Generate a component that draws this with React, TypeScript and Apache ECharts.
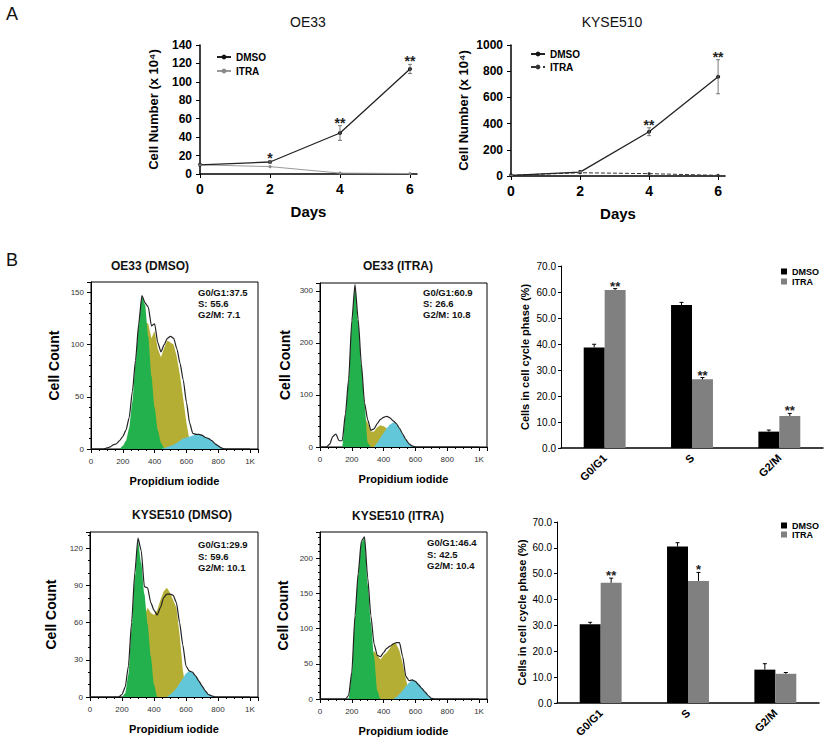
import React, { useEffect, useRef } from 'react';
import * as echarts from 'echarts';

const FONT = '"Liberation Sans", Arial, Helvetica, sans-serif';
const GREEN = '#22b14c';
const OLIVE = '#b4af34';
const CYAN = '#62c7d9';

// ---------- Panel A: growth curves ----------
const days = [0, 2, 4, 6];
const dayTicks = [0, 2, 4, 6];
const oeDmso = [10, 13, 44.5, 114];
const oeDmsoErr = [0.8, 1.2, 8, 5];
const oeItra = [10, 8, 1, 0.5];
const oeStars = ['', '*', '**', '**'];
const kyDmso = [5, 30, 338, 758];
const kyDmsoErr = [2, 5, 30, 130];
const kyItra = [5, 25, 18, 5];
const kyStars = ['', '', '**', '**'];

// ---------- Panel B: DNA histograms ----------
const histX = [
  0, 20, 40, 60, 80, 100, 120, 140, 160, 180,
  200, 220, 240, 260, 280, 300, 320, 340, 360, 380,
  400, 420, 440, 460, 480, 500, 520, 540, 560, 580,
  600, 620, 640, 660, 680, 700, 720, 740, 760, 780,
  800, 820, 840, 860, 880, 900, 920, 940, 960, 980,
  1000,
];
const histXTicks = [0, 200, 400, 600, 800, 1000];

const oeDmsoTotal = [
  0, 0, 0, 0, 0, 1, 2, 4, 5, 8,
  12, 18, 30, 55, 85, 120, 147, 140, 136, 118,
  120, 102, 93, 100, 106, 108, 106, 96, 82, 66,
  45, 25, 15, 14, 14, 13, 11, 10, 8, 5,
  3, 1, 0, 0, 0, 0, 0, 0, 0, 0,
  0,
];
const oeDmsoG1 = [
  0, 0, 0, 0, 0, 0, 0, 0, 0, 0,
  3, 8, 20, 45, 82, 120, 146, 138, 108, 70,
  40, 18, 6, 1, 0, 0, 0, 0, 0, 0,
  0, 0, 0, 0, 0, 0, 0, 0, 0, 0,
  0, 0, 0, 0, 0, 0, 0, 0, 0, 0,
  0,
];
const oeDmsoS = [
  0, 0, 0, 0, 0, 0, 0, 0, 0, 0,
  0, 0, 0, 0, 0, 50, 95, 122, 120, 106,
  113, 96, 88, 97, 104, 102, 100, 88, 70, 48,
  25, 8, 2, 0, 0, 0, 0, 0, 0, 0,
  0, 0, 0, 0, 0, 0, 0, 0, 0, 0,
  0,
];
const oeDmsoG2 = [
  0, 0, 0, 0, 0, 0, 0, 0, 0, 0,
  0, 0, 0, 0, 0, 0, 0, 0, 0, 0,
  0, 0, 0, 1, 2, 3, 4, 6, 8, 10,
  11, 12, 13, 14, 14, 13, 11, 10, 8, 5,
  3, 1, 0, 0, 0, 0, 0, 0, 0, 0,
  0,
];

const oeItraTotal = [
  0, 0, 0, 5, 20, 25, 12, 12, 64, 130,
  242, 312, 245, 160, 85, 52, 32, 35, 45, 53,
  57, 59, 56, 50, 45, 36, 25, 14, 6, 2,
  0, 0, 0, 0, 0, 0, 0, 0, 0, 0,
  0, 0, 0, 0, 0, 0, 0, 0, 0, 0,
  0,
];
const oeItraG1 = [
  0, 0, 0, 0, 0, 0, 0, 0, 60, 125,
  238, 310, 241, 158, 83, 8, 0, 0, 0, 0,
  0, 0, 0, 0, 0, 0, 0, 0, 0, 0,
  0, 0, 0, 0, 0, 0, 0, 0, 0, 0,
  0, 0, 0, 0, 0, 0, 0, 0, 0, 0,
  0,
];
const oeItraS = [
  0, 0, 0, 0, 0, 0, 0, 0, 0, 0,
  0, 0, 0, 45, 58, 46, 30, 30, 38, 42,
  40, 36, 25, 10, 0, 0, 0, 0, 0, 0,
  0, 0, 0, 0, 0, 0, 0, 0, 0, 0,
  0, 0, 0, 0, 0, 0, 0, 0, 0, 0,
  0,
];
const oeItraG2 = [
  0, 0, 0, 0, 0, 0, 0, 0, 0, 0,
  0, 0, 0, 0, 0, 0, 0, 0, 8, 18,
  27, 36, 43, 47, 44, 35, 24, 14, 6, 2,
  0, 0, 0, 0, 0, 0, 0, 0, 0, 0,
  0, 0, 0, 0, 0, 0, 0, 0, 0, 0,
  0,
];

const kyDmsoTotal = [
  0, 0, 0, 0, 0, 0, 0, 0, 0, 0,
  2, 8, 25, 60, 100, 128, 118, 89, 88, 76,
  70, 66, 72, 80, 83, 83, 82, 76, 60, 42,
  25, 21, 20, 17, 13, 9, 5, 2, 1, 0,
  0, 0, 0, 0, 0, 0, 0, 0, 0, 0,
  0,
];
const kyDmsoG1 = [
  0, 0, 0, 0, 0, 0, 0, 0, 0, 0,
  0, 3, 18, 55, 95, 126, 108, 83, 59, 33,
  10, 0, 0, 0, 0, 0, 0, 0, 0, 0,
  0, 0, 0, 0, 0, 0, 0, 0, 0, 0,
  0, 0, 0, 0, 0, 0, 0, 0, 0, 0,
  0,
];
const kyDmsoS = [
  0, 0, 0, 0, 0, 0, 0, 0, 0, 0,
  0, 0, 0, 0, 0, 0, 0, 65, 72, 68,
  66, 70, 78, 85, 88, 84, 78, 72, 50, 22,
  5, 0, 0, 0, 0, 0, 0, 0, 0, 0,
  0, 0, 0, 0, 0, 0, 0, 0, 0, 0,
  0,
];
const kyDmsoG2 = [
  0, 0, 0, 0, 0, 0, 0, 0, 0, 0,
  0, 0, 0, 0, 0, 0, 0, 0, 0, 0,
  0, 0, 0, 0, 0, 2, 4, 7, 11, 15,
  19, 21, 20, 17, 13, 9, 5, 2, 1, 0,
  0, 0, 0, 0, 0, 0, 0, 0, 0, 0,
  0,
];

const kyItraTotal = [
  0, 0, 0, 0, 0, 0, 0, 0, 0, 5,
  38, 118, 178, 224, 230, 172, 118, 78, 62, 60,
  66, 72, 75, 78, 80, 80, 60, 32, 26, 27,
  25, 20, 15, 10, 5, 1, 0, 0, 0, 0,
  0, 0, 0, 0, 0, 0, 0, 0, 0, 0,
  0,
];
const kyItraG1 = [
  0, 0, 0, 0, 0, 0, 0, 0, 0, 0,
  35, 115, 175, 222, 228, 162, 108, 60, 12, 0,
  0, 0, 0, 0, 0, 0, 0, 0, 0, 0,
  0, 0, 0, 0, 0, 0, 0, 0, 0, 0,
  0, 0, 0, 0, 0, 0, 0, 0, 0, 0,
  0,
];
const kyItraS = [
  0, 0, 0, 0, 0, 0, 0, 0, 0, 0,
  0, 0, 0, 0, 0, 0, 60, 68, 62, 56,
  62, 66, 72, 80, 78, 68, 50, 28, 10, 0,
  0, 0, 0, 0, 0, 0, 0, 0, 0, 0,
  0, 0, 0, 0, 0, 0, 0, 0, 0, 0,
  0,
];
const kyItraG2 = [
  0, 0, 0, 0, 0, 0, 0, 0, 0, 0,
  0, 0, 0, 0, 0, 0, 0, 0, 0, 0,
  0, 0, 0, 0, 3, 7, 12, 18, 23, 27,
  26, 22, 16, 10, 5, 1, 0, 0, 0, 0,
  0, 0, 0, 0, 0, 0, 0, 0, 0, 0,
  0,
];

const histTitles = ['OE33 (DMSO)', 'OE33 (ITRA)', 'KYSE510 (DMSO)', 'KYSE510 (ITRA)'];
const histStats = [
  ['G0/G1:37.5', 'S: 55.6', 'G2/M: 7.1'],
  ['G0/G1:60.9', 'S: 26.6', 'G2/M: 10.8'],
  ['G0/G1:29.9', 'S: 59.6', 'G2/M: 10.1'],
  ['G0/G1:46.4', 'S: 42.5', 'G2/M: 10.4'],
];

// ---------- Panel B: cell-cycle bars ----------
const phases = ['G0/G1', 'S', 'G2/M'];
const oeBarDmso = [38.7, 55.0, 6.3];
const oeBarDmsoErr = [1.2, 1.0, 0.6];
const oeBarItra = [60.8, 26.4, 12.3];
const oeBarItraErr = [0.5, 0.7, 1.0];
const oeBarStars = ['**', '**', '**'];
const kyBarDmso = [30.5, 60.5, 12.9];
const kyBarDmsoErr = [0.7, 1.5, 2.3];
const kyBarItra = [46.5, 47.2, 11.3];
const kyBarItraErr = [1.8, 3.3, 0.5];
const kyBarStars = ['**', '*', ''];

const BAR_GAP = 0.52;

function starText(text: string, x: number, y: number, size: number) {
  return {
    type: 'text',
    x,
    y,
    style: {
      text,
      fill: '#222',
      fontSize: size,
      fontWeight: 'bold',
      fontFamily: FONT,
      align: 'center',
      verticalAlign: 'bottom',
      textAlign: 'center',
      textVerticalAlign: 'bottom',
    },
  };
}

function lineErrSeries(gi: number, vals: number[], errs: number[], stars: string[]) {
  return {
    type: 'custom',
    xAxisIndex: gi,
    yAxisIndex: gi,
    silent: true,
    z: 6,
    encode: { x: 0, y: [1, 2] },
    data: days.map((d, i) => [d, vals[i] - errs[i], vals[i] + errs[i]]),
    renderItem: (params: any, api: any) => {
      const x = api.value(0);
      const lo = api.coord([x, api.value(1)]);
      const hi = api.coord([x, api.value(2)]);
      const s = stars[params.dataIndex];
      const col = '#777';
      const children: any[] = [
        { type: 'line', shape: { x1: lo[0], y1: lo[1], x2: hi[0], y2: hi[1] }, style: { stroke: col, lineWidth: 1 } },
        { type: 'line', shape: { x1: hi[0] - 2, y1: hi[1], x2: hi[0] + 2, y2: hi[1] }, style: { stroke: col, lineWidth: 1 } },
        { type: 'line', shape: { x1: lo[0] - 2, y1: lo[1], x2: lo[0] + 2, y2: lo[1] }, style: { stroke: col, lineWidth: 1 } },
      ];
      if (s) children.push(starText(s, hi[0], hi[1] + 4, 14));
      return { type: 'group', children };
    },
  };
}

function barErrSeries(gi: number, vals: number[], errs: number[], sign: number, stars: string[] | null) {
  return {
    type: 'custom',
    xAxisIndex: gi,
    yAxisIndex: gi,
    silent: true,
    z: 6,
    encode: { x: 0, y: [1, 2] },
    data: vals.map((v, i) => [i, v, v + errs[i]]),
    renderItem: (params: any, api: any) => {
      const i = api.value(0);
      const band = api.size([1, 0])[0];
      const bw = (band * (1 - BAR_GAP)) / 2;
      const base = api.coord([i, api.value(1)]);
      const top = api.coord([i, api.value(2)]);
      const cx = base[0] + (sign * bw) / 2;
      const children: any[] = [
        { type: 'line', shape: { x1: cx, y1: base[1], x2: cx, y2: top[1] }, style: { stroke: '#000', lineWidth: 1 } },
        { type: 'line', shape: { x1: cx - 2, y1: top[1], x2: cx + 2, y2: top[1] }, style: { stroke: '#000', lineWidth: 1 } },
      ];
      const s = stars ? stars[params.dataIndex] : '';
      if (s) children.push(starText(s, cx, top[1] + 4, 13));
      return { type: 'group', children };
    },
  };
}

function histSeries(gi: number, olive: number[], green: number[], cyan: number[], total: number[]) {
  const area = (arr: number[], color: string, z: number, smooth: number | boolean) => ({
    type: 'line',
    xAxisIndex: gi,
    yAxisIndex: gi,
    data: histX.map((x, i) => [x, arr[i]]),
    symbol: 'none',
    smooth,
    smoothMonotone: 'x',
    lineStyle: { width: 0, color },
    itemStyle: { color },
    areaStyle: { color, opacity: 1 },
    silent: true,
    z,
  });
  return [
    area(olive, OLIVE, 2, false),
    area(green, GREEN, 3, 0.2),
    area(cyan, CYAN, 4, 0.2),
    {
      type: 'line',
      xAxisIndex: gi,
      yAxisIndex: gi,
      data: histX.map((x, i) => [x, total[i]]),
      symbol: 'none',
      smooth: 0.2,
      smoothMonotone: 'x',
      lineStyle: { width: 1.2, color: '#222' },
      itemStyle: { color: '#222' },
      silent: true,
      z: 5,
    },
  ];
}

const lineX = (gi: number) => ({
  gridIndex: gi,
  type: 'value',
  min: 0,
  max: 6.2,
  axisLine: { show: true, lineStyle: { color: '#000', width: 1.5 } },
  axisTick: { show: true, customValues: dayTicks, length: 4, lineStyle: { color: '#000' } },
  axisLabel: {
    customValues: dayTicks,
    formatter: (v: number) => (dayTicks.includes(v) ? String(v) : ''),
    fontSize: 14,
    fontWeight: 'bold',
    color: '#000',
    margin: 8,
    fontFamily: FONT,
  },
  splitLine: { show: false },
  name: 'Days',
  nameLocation: 'middle',
  nameGap: 30,
  nameTextStyle: { fontSize: 15, fontWeight: 'bold', color: '#000', fontFamily: FONT },
});

const lineY = (gi: number, max: number, interval: number, gap: number) => ({
  gridIndex: gi,
  type: 'value',
  min: 0,
  max,
  interval,
  axisLine: { show: true, lineStyle: { color: '#000', width: 1.5 } },
  axisTick: { show: true, length: 4, lineStyle: { color: '#000' } },
  axisLabel: {
    formatter: (v: number) => String(v),
    fontSize: 12,
    fontWeight: 'bold',
    color: '#000',
    margin: 8,
    fontFamily: FONT,
  },
  splitLine: { show: false },
  name: 'Cell Number (x 10⁴)',
  nameLocation: 'middle',
  nameGap: gap,
  nameTextStyle: { fontSize: 13, fontWeight: 'bold', color: '#000', fontFamily: FONT },
});

const histXAxis = (gi: number) => ({
  gridIndex: gi,
  type: 'value',
  min: 0,
  max: 1050,
  interval: 200,
  axisLine: { show: true, lineStyle: { color: '#000', width: 1 } },
  axisTick: { show: true, length: 4, lineStyle: { color: '#000' } },
  minorTick: { show: true, splitNumber: 4, length: 2, lineStyle: { color: '#000' } },
  axisLabel: {
    formatter: (v: number) => (histXTicks.includes(v) ? (v === 1000 ? '1K' : String(v)) : ''),
    fontSize: 8,
    color: '#333',
    margin: 8,
    fontFamily: FONT,
  },
  splitLine: { show: false },
  minorSplitLine: { show: false },
  name: 'Propidium iodide',
  nameLocation: 'middle',
  nameGap: 26,
  nameTextStyle: { fontSize: 11, fontWeight: 'bold', color: '#000', fontFamily: FONT },
});

const histYAxis = (gi: number, max: number, interval: number, minor: number, gap: number) => ({
  gridIndex: gi,
  type: 'value',
  min: 0,
  max,
  interval,
  axisLine: { show: true, lineStyle: { color: '#000', width: 1 } },
  axisTick: { show: true, length: 4, lineStyle: { color: '#000' } },
  minorTick: { show: true, splitNumber: minor, length: 2, lineStyle: { color: '#000' } },
  axisLabel: {
    formatter: (v: number) => (v % interval === 0 ? String(v) : ''),
    fontSize: 8,
    color: '#333',
    margin: 7,
    fontFamily: FONT,
  },
  splitLine: { show: false },
  minorSplitLine: { show: false },
  name: 'Cell Count',
  nameLocation: 'middle',
  nameGap: gap,
  nameTextStyle: { fontSize: 14, fontWeight: 'bold', color: '#000', fontFamily: FONT },
});

const barXAxis = (gi: number) => ({
  gridIndex: gi,
  type: 'category',
  data: phases,
  axisLine: { show: true, lineStyle: { color: '#000', width: 1.5 } },
  axisTick: { show: false },
  axisLabel: { rotate: 45, interval: 0, fontSize: 11, fontWeight: 'bold', color: '#000', margin: 8, fontFamily: FONT },
  splitLine: { show: false },
});

const barYAxis = (gi: number, gap: number) => ({
  gridIndex: gi,
  type: 'value',
  min: 0,
  max: 70,
  interval: 10,
  axisLine: { show: true, lineStyle: { color: '#000', width: 1 } },
  axisTick: { show: true, length: 3, lineStyle: { color: '#000' } },
  axisLabel: { formatter: (v: number) => v.toFixed(1), fontSize: 10, color: '#000', margin: 5, fontFamily: FONT },
  splitLine: { show: false },
  name: 'Cells in cell cycle phase (%)',
  nameLocation: 'middle',
  nameGap: gap,
  nameTextStyle: { fontSize: 11, fontWeight: 'bold', color: '#000', fontFamily: FONT },
});

const stripName = (n: string) => n.split('|')[0];

const legendBase = {
  orient: 'vertical',
  selectedMode: false,
  formatter: stripName,
  textStyle: { fontSize: 10, fontWeight: 'bold', color: '#000', fontFamily: FONT },
};

function txt(text: string, x: number, y: number, size: number, weight: string, align: string, valign: string, lineHeight?: number) {
  return {
    type: 'text',
    x,
    y,
    silent: true,
    style: {
      text,
      fill: '#111',
      fontSize: size,
      fontWeight: weight,
      fontFamily: FONT,
      lineHeight: lineHeight || size * 1.2,
      align,
      verticalAlign: valign,
      textAlign: align,
      textVerticalAlign: valign,
    },
  };
}

function buildOption() {
  const grids = [
    { left: 200, top: 45, width: 217, height: 129 },
    { left: 511, top: 45, width: 214, height: 131 },
    { left: 91, top: 282, width: 167, height: 167, show: true, borderColor: '#000', borderWidth: 1 },
    { left: 320, top: 283, width: 167, height: 164, show: true, borderColor: '#000', borderWidth: 1 },
    { left: 561, top: 266, width: 262, height: 182 },
    { left: 90, top: 532, width: 168, height: 165, show: true, borderColor: '#000', borderWidth: 1 },
    { left: 320, top: 532, width: 167, height: 167, show: true, borderColor: '#000', borderWidth: 1 },
    { left: 557, top: 522, width: 262, height: 181 },
  ];

  const xAxis = [
    lineX(0),
    lineX(1),
    histXAxis(2),
    histXAxis(3),
    barXAxis(4),
    histXAxis(5),
    histXAxis(6),
    barXAxis(7),
  ];
  const yAxis = [
    lineY(0, 140, 20, 40),
    lineY(1, 1000, 200, 41),
    histYAxis(2, 160, 50, 5, 30),
    histYAxis(3, 315, 100, 5, 28),
    barYAxis(4, 31),
    histYAxis(5, 133, 30, 3, 32),
    histYAxis(6, 237, 50, 5, 30),
    barYAxis(7, 30),
  ];

  const series: any[] = [
    {
      name: 'DMSO|0', type: 'line', xAxisIndex: 0, yAxisIndex: 0,
      data: days.map((d, i) => [d, oeDmso[i]]),
      symbol: 'circle', symbolSize: 4, color: '#111',
      lineStyle: { width: 1.3, color: '#222' }, z: 4,
    },
    {
      name: 'ITRA|0', type: 'line', xAxisIndex: 0, yAxisIndex: 0,
      data: days.map((d, i) => [d, oeItra[i]]),
      symbol: 'circle', symbolSize: 3, color: '#888',
      lineStyle: { width: 1, color: '#999' }, z: 3,
    },
    lineErrSeries(0, oeDmso, oeDmsoErr, oeStars),
    {
      name: 'DMSO|1', type: 'line', xAxisIndex: 1, yAxisIndex: 1,
      data: days.map((d, i) => [d, kyDmso[i]]),
      symbol: 'circle', symbolSize: 4, color: '#111',
      lineStyle: { width: 1.3, color: '#222' }, z: 4,
    },
    {
      name: 'ITRA|1', type: 'line', xAxisIndex: 1, yAxisIndex: 1,
      data: days.map((d, i) => [d, kyItra[i]]),
      symbol: 'circle', symbolSize: 3, color: '#333',
      lineStyle: { width: 1, color: '#333', type: 'dashed' }, z: 3,
    },
    lineErrSeries(1, kyDmso, kyDmsoErr, kyStars),
    ...histSeries(2, oeDmsoS, oeDmsoG1, oeDmsoG2, oeDmsoTotal),
    ...histSeries(3, oeItraS, oeItraG1, oeItraG2, oeItraTotal),
    ...histSeries(5, kyDmsoS, kyDmsoG1, kyDmsoG2, kyDmsoTotal),
    ...histSeries(6, kyItraS, kyItraG1, kyItraG2, kyItraTotal),
    {
      name: 'DMSO|2', type: 'bar', xAxisIndex: 4, yAxisIndex: 4, data: oeBarDmso,
      color: '#000', barGap: '0%', barCategoryGap: '52%',
    },
    {
      name: 'ITRA|2', type: 'bar', xAxisIndex: 4, yAxisIndex: 4, data: oeBarItra,
      color: '#808080', barGap: '0%', barCategoryGap: '52%',
    },
    barErrSeries(4, oeBarDmso, oeBarDmsoErr, -1, null),
    barErrSeries(4, oeBarItra, oeBarItraErr, 1, oeBarStars),
    {
      name: 'DMSO|3', type: 'bar', xAxisIndex: 7, yAxisIndex: 7, data: kyBarDmso,
      color: '#000', barGap: '0%', barCategoryGap: '52%',
    },
    {
      name: 'ITRA|3', type: 'bar', xAxisIndex: 7, yAxisIndex: 7, data: kyBarItra,
      color: '#808080', barGap: '0%', barCategoryGap: '52%',
    },
    barErrSeries(7, kyBarDmso, kyBarDmsoErr, -1, null),
    barErrSeries(7, kyBarItra, kyBarItraErr, 1, kyBarStars),
  ];

  const legend = [
    { ...legendBase, left: 211, top: 47, itemWidth: 14, itemHeight: 6, itemGap: 4, data: ['DMSO|0', 'ITRA|0'] },
    { ...legendBase, left: 525, top: 44, itemWidth: 14, itemHeight: 6, itemGap: 3, data: ['DMSO|1', 'ITRA|1'] },
    {
      ...legendBase, left: 776, top: 262, itemWidth: 6, itemHeight: 6, itemGap: 1, icon: 'rect',
      textStyle: { ...legendBase.textStyle, fontSize: 9 }, data: ['DMSO|2', 'ITRA|2'],
    },
    {
      ...legendBase, left: 776, top: 516, itemWidth: 6, itemHeight: 6, itemGap: 0, icon: 'rect',
      textStyle: { ...legendBase.textStyle, fontSize: 9 }, data: ['DMSO|3', 'ITRA|3'],
    },
  ];

  const graphic: any[] = [
    txt('A', 6, 3, 18, 'normal', 'left', 'top'),
    txt('B', 6, 249, 18, 'normal', 'left', 'top'),
    txt('OE33', 308, 22, 14, 'normal', 'center', 'middle'),
    txt('KYSE510', 612, 22, 14, 'normal', 'center', 'middle'),
    txt(histTitles[0], 150, 266, 12, 'bold', 'center', 'middle'),
    txt(histTitles[1], 398, 266, 12, 'bold', 'center', 'middle'),
    txt(histTitles[2], 182, 515, 12, 'bold', 'center', 'middle'),
    txt(histTitles[3], 398, 516, 12, 'bold', 'center', 'middle'),
    txt(histStats[0].join('\n'), 198, 287, 9.5, 'bold', 'left', 'top', 11),
    txt(histStats[1].join('\n'), 423, 287, 9.5, 'bold', 'left', 'top', 11),
    txt(histStats[2].join('\n'), 198, 539, 9.5, 'bold', 'left', 'top', 11.5),
    txt(histStats[3].join('\n'), 427, 537, 9.5, 'bold', 'left', 'top', 11.5),
  ];

  return {
    animation: false,
    backgroundColor: '#fff',
    textStyle: { fontFamily: FONT },
    grid: grids,
    xAxis,
    yAxis,
    legend,
    series,
    graphic,
  };
}

export default function App() {
  const ref = useRef<HTMLDivElement>(null);
  useEffect(() => {
    if (!ref.current) return;
    const chart = echarts.init(ref.current, null, { renderer: 'svg' });
    chart.setOption(buildOption() as any);
    return () => chart.dispose();
  }, []);
  return (
    <div
      ref={ref}
      style={{ position: 'absolute', left: 0, top: 0, width: 825, height: 740, background: '#fff' }}
    />
  );
}
